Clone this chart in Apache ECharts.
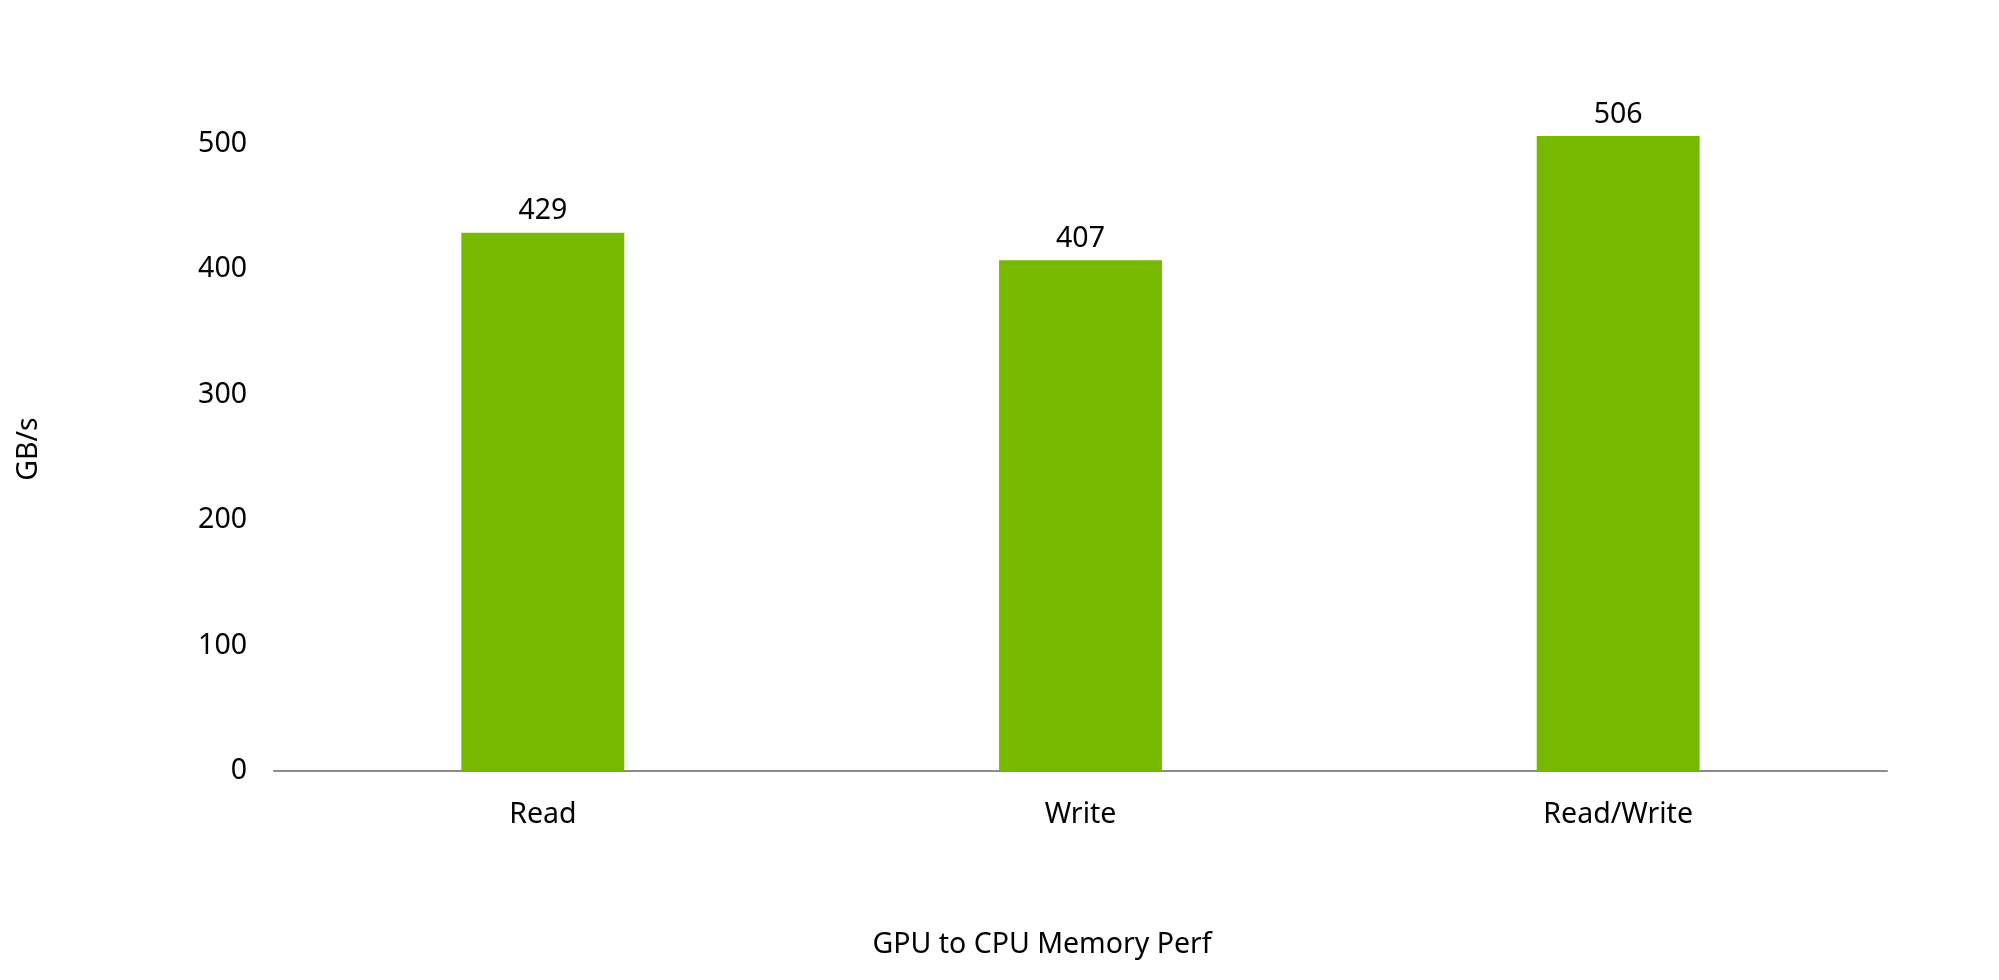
<!DOCTYPE html>
<html lang="en">
<head>
    <meta charset="UTF-8">
    <title>GPU to CPU Memory Perf</title>
    <style>
        html, body { margin: 0; padding: 0; background: #fff; }
        #chart { width: 1999px; height: 980px; }
    </style>
</head>
<body>
    <div id="chart"></div>
    <script src="https://cdn.jsdelivr.net/npm/echarts@6/dist/echarts.min.js"></script>
    <script type="text/javascript">
        // data
        var categories = ['Read', 'Write', 'Read/Write'];
        var bandwidth = [429, 407, 506];
        var yTicks = [0, 100, 200, 300, 400, 500];

        var font = '"Noto Sans", "DejaVu Sans", sans-serif';
        var size = 28.5;
        var myChart = echarts.init(document.getElementById('chart'));
        myChart.setOption({
            animation: false,
            grid: { left: 274, right: 112, top: 126, bottom: 209 },
            graphic: [
                {
                    type: 'text', x: 1042, y: 945,
                    style: { text: 'GPU to CPU Memory Perf', font: size + 'px ' + font, fill: '#000', align: 'center', verticalAlign: 'middle' }
                },
                {
                    type: 'text', x: 29, y: 449, rotation: Math.PI / 2,
                    style: { text: 'GB/s', font: size + 'px ' + font, fill: '#000', align: 'center', verticalAlign: 'middle' }
                }
            ],
            xAxis: {
                type: 'category',
                data: categories,
                axisLine: { lineStyle: { color: '#8c8c8c', width: 2 } },
                axisTick: { show: false },
                axisLabel: { color: '#000', fontSize: size, fontFamily: font, margin: 29 }
            },
            yAxis: {
                type: 'value',
                min: yTicks[0],
                max: 514,
                interval: 100,
                splitLine: { show: false },
                axisLine: { show: false },
                axisTick: { show: false },
                axisLabel: {
                    color: '#000', fontSize: size, fontFamily: font, margin: 27,
                    showMaxLabel: false
                }
            },
            series: [{
                type: 'bar',
                data: bandwidth,
                barWidth: '30.3%',
                itemStyle: { color: '#76b900' },
                label: {
                    show: true, position: 'top', distance: 7,
                    color: '#000', fontSize: size, fontFamily: font
                }
            }]
        });
    </script>
</body>
</html>
